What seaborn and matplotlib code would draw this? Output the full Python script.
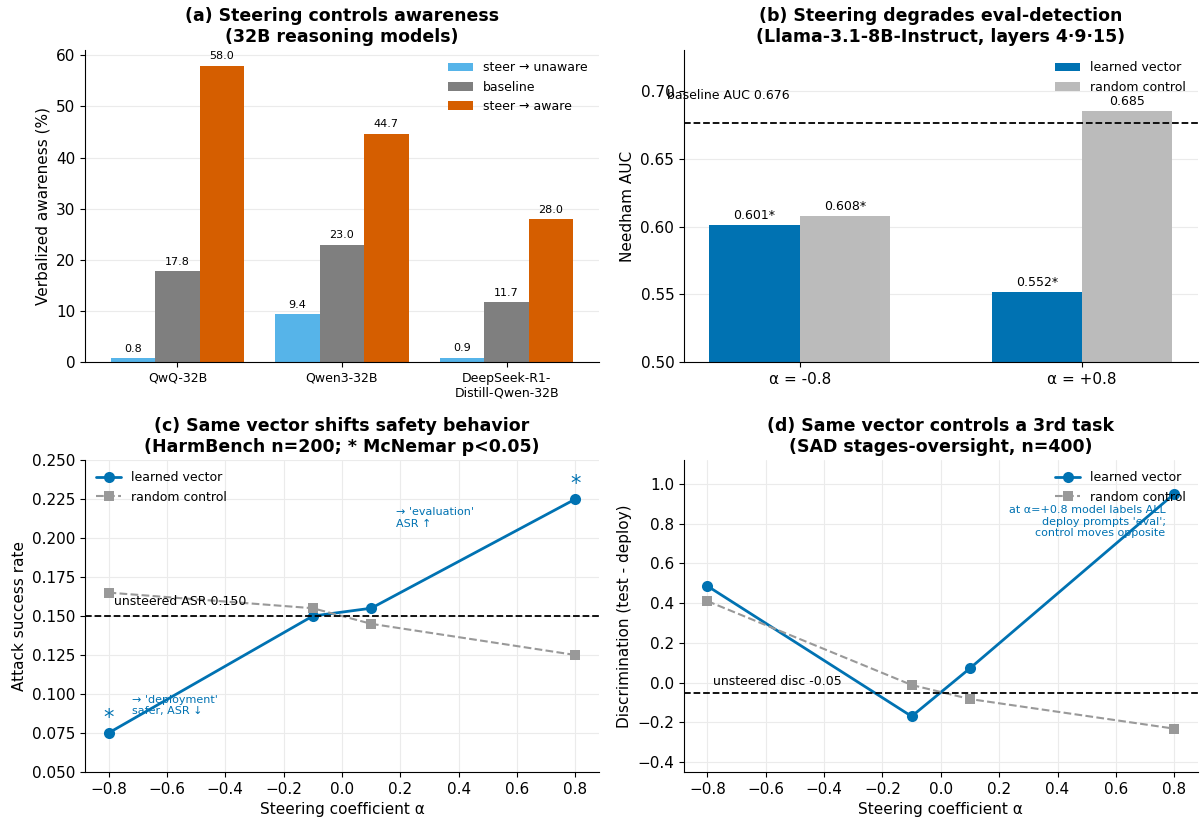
import numpy as np
import pandas as pd
import seaborn as sns
import matplotlib.pyplot as plt

# panel (a)
models = ["QwQ-32B", "Qwen3-32B", "DeepSeek-R1-\nDistill-Qwen-32B"]
steer_unaware = [0.8, 9.4, 0.9]
baseline_aw = [17.8, 23.0, 11.7]
steer_aware = [58.0, 44.7, 28.0]

# panel (b)
alphas_b = ["α = -0.8", "α = +0.8"]
auc_learned = [0.601, 0.552]
auc_random = [0.608, 0.685]
auc_labels_learned = ["0.601*", "0.552*"]
auc_labels_random = ["0.608*", "0.685"]
baseline_auc = 0.676

# panel (c)
coef = [-0.8, -0.1, 0.1, 0.8]
asr_learned = [0.075, 0.150, 0.155, 0.225]
asr_random = [0.165, 0.155, 0.145, 0.125]
asr_base = 0.150

# panel (d)
disc_learned = [0.486, -0.170, 0.072, 0.950]
disc_random = [0.410, -0.012, -0.083, -0.232]
disc_base = -0.05

BLUE = "#0072B2"
LIGHTBLUE = "#56B4E9"
ORANGE = "#D55E00"
GRAY = "#7f7f7f"
LGRAY = "#bbbbbb"
DGRAY = "#999999"

sns.set_style("ticks", {"axes.grid": True, "grid.color": ".92",
                        "axes.edgecolor": "black", "text.color": "black",
                        "axes.labelcolor": "black", "xtick.color": "black",
                        "ytick.color": "black"})
plt.rcParams["font.family"] = ["DejaVu Sans"]

fig, axes = plt.subplots(2, 2, figsize=(12, 8.23), dpi=100)
ax_a, ax_b, ax_c, ax_d = axes[0, 0], axes[0, 1], axes[1, 0], axes[1, 1]

# ---- (a)
cond_a = ["steer → unaware", "baseline", "steer → aware"]
df_a = pd.DataFrame({
    "model": models * 3,
    "cond": [c for c in cond_a for _ in models],
    "val": steer_unaware + baseline_aw + steer_aware,
})
sns.barplot(data=df_a, x="model", y="val", hue="cond", hue_order=cond_a,
            palette=[LIGHTBLUE, GRAY, ORANGE], width=0.81, saturation=1,
            linewidth=0, ax=ax_a, legend=True)
for cont in ax_a.containers:
    ax_a.bar_label(cont, fmt="%.1f", fontsize=8, padding=3)
ax_a.set_xlim(-0.56, 2.56)
ax_a.set_ylim(0, 61)
ax_a.set_xlabel("")
ax_a.set_ylabel("Verbalized awareness (%)", fontsize=11)
ax_a.tick_params(axis="x", labelsize=9)
ax_a.tick_params(axis="y", labelsize=11)
ax_a.legend(frameon=False, fontsize=9, loc="upper right")
ax_a.set_title("(a) Steering controls awareness\n(32B reasoning models)",
               fontweight="bold", fontsize=12.5)

# ---- (b)
cond_b = ["learned vector", "random control"]
df_b = pd.DataFrame({
    "alpha": alphas_b * 2,
    "cond": [c for c in cond_b for _ in alphas_b],
    "val": auc_learned + auc_random,
})
sns.barplot(data=df_b, x="alpha", y="val", hue="cond", hue_order=cond_b,
            palette=[BLUE, LGRAY], width=0.64, saturation=1, linewidth=0, ax=ax_b)
ax_b.bar_label(ax_b.containers[0], labels=auc_labels_learned, fontsize=9, padding=2)
ax_b.bar_label(ax_b.containers[1], labels=auc_labels_random, fontsize=9, padding=2)
ax_b.axhline(baseline_auc, color="black", ls="--", lw=1.3)
ax_b.text(-0.47, baseline_auc + 0.018, f"baseline AUC {baseline_auc}", fontsize=9)
ax_b.set_xlim(-0.41, 1.41)
ax_b.set_ylim(0.5, 0.73)
ax_b.set_xlabel("")
ax_b.set_ylabel("Needham AUC", fontsize=11)
ax_b.tick_params(labelsize=11)
ax_b.legend(frameon=False, fontsize=9, loc="upper right")
ax_b.set_title("(b) Steering degrades eval-detection\n(Llama-3.1-8B-Instruct, layers 4·9·15)",
               fontweight="bold", fontsize=12.5)

# ---- (c)
sns.lineplot(x=coef, y=asr_learned, color=BLUE, marker="o", markersize=8,
             markeredgewidth=0, lw=2, label="learned vector", ax=ax_c)
sns.lineplot(x=coef, y=asr_random, color=DGRAY, marker="s", markersize=7,
             markeredgewidth=0, lw=1.5, ls="--", label="random control", ax=ax_c)
ax_c.axhline(asr_base, color="black", ls="--", lw=1.3)
ax_c.text(-0.78, asr_base + 0.007, f"unsteered ASR {asr_base:.3f}", fontsize=9)
ax_c.text(coef[0], asr_learned[0] + 0.006, "*", color=BLUE, fontsize=15, ha="center")
ax_c.text(coef[-1], asr_learned[-1] + 0.006, "*", color=BLUE, fontsize=15, ha="center")
ax_c.text(-0.72, 0.0925, "→ 'deployment'\nsafer, ASR ↓", color=BLUE, fontsize=8, va="center")
ax_c.text(0.185, 0.213, "→ 'evaluation'\nASR ↑", color=BLUE, fontsize=8, va="center")
ax_c.set_ylim(0.05, 0.25)
ax_c.set_yticks(np.arange(0.05, 0.251, 0.025))
ax_c.set_xticks(np.arange(-0.8, 0.81, 0.2))
ax_c.set_xlabel("Steering coefficient α", fontsize=11)
ax_c.set_ylabel("Attack success rate", fontsize=11)
ax_c.tick_params(labelsize=11)
ax_c.legend(frameon=False, fontsize=9, loc="upper left")
ax_c.set_title("(c) Same vector shifts safety behavior\n(HarmBench n=200; * McNemar p<0.05)",
               fontweight="bold", fontsize=12.5)

# ---- (d)
sns.lineplot(x=coef, y=disc_learned, color=BLUE, marker="o", markersize=8,
             markeredgewidth=0, lw=2, label="learned vector", ax=ax_d)
sns.lineplot(x=coef, y=disc_random, color=DGRAY, marker="s", markersize=7,
             markeredgewidth=0, lw=1.5, ls="--", label="random control", ax=ax_d)
ax_d.axhline(disc_base, color="black", ls="--", lw=1.3)
ax_d.text(-0.78, disc_base + 0.04, f"unsteered disc {disc_base}", fontsize=9)
ax_d.text(0.77, 0.81, "at α=+0.8 model labels ALL\ndeploy prompts 'eval';\ncontrol moves opposite",
          color=BLUE, fontsize=8, ha="right", va="center")
ax_d.set_ylim(-0.45, 1.12)
ax_d.set_xticks(np.arange(-0.8, 0.81, 0.2))
ax_d.set_xlabel("Steering coefficient α", fontsize=11)
ax_d.set_ylabel("Discrimination (test - deploy)", fontsize=11)
ax_d.tick_params(labelsize=11)
ax_d.legend(frameon=False, fontsize=9, loc="upper right")
ax_d.set_title("(d) Same vector controls a 3rd task\n(SAD stages-oversight, n=400)",
               fontweight="bold", fontsize=12.5)

for ax in axes.flat:
    sns.despine(ax=ax)

fig.subplots_adjust(left=0.071, right=0.998, top=0.939, bottom=0.062,
                    wspace=0.166, hspace=0.314)
fig.savefig("out.png", dpi=100)
